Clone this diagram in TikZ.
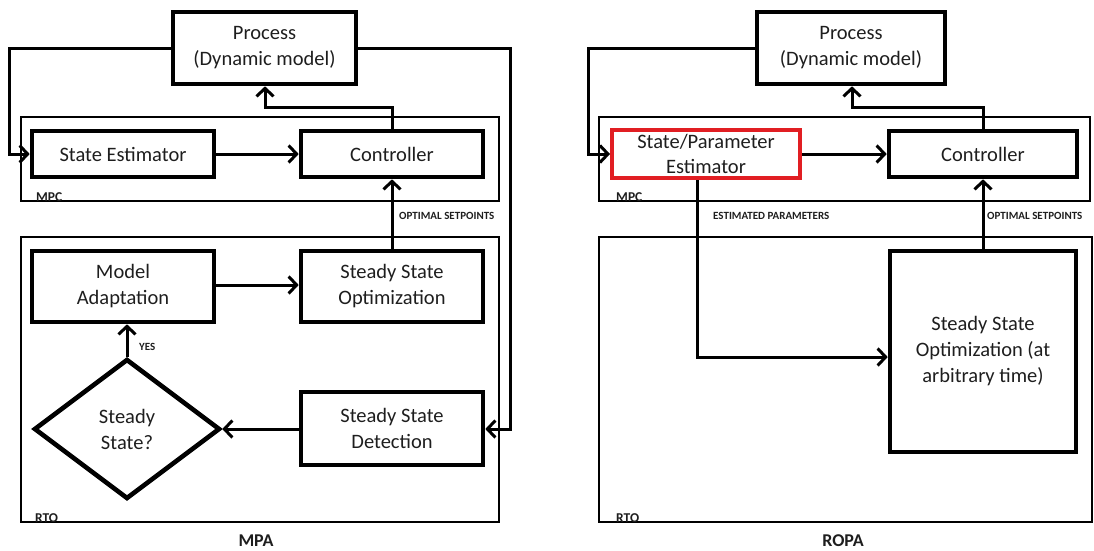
\documentclass[tikz,border=0pt]{standalone}
\usepackage{fontspec}
\setmainfont{Carlito}
\usetikzlibrary{arrows.meta,shapes.geometric}
\definecolor{ink}{RGB}{30,30,30}
\definecolor{estred}{RGB}{225,30,35}
\tikzset{
  blk/.style={draw=black, line width=4.6pt, inner sep=2pt, align=center,
    text=ink, font=\fontsize{20.5}{26}\selectfont},
  frame/.style={draw=black, line width=2.8pt, inner sep=0pt},
  decide/.style={diamond, draw=black, line width=4.6pt, inner sep=0pt, align=center,
    text=ink, font=\fontsize{20.5}{26}\selectfont},
  link/.style={draw=black, line width=3pt},
  flow/.style={link, -{Straight Barb[length=8pt,width=17pt]}},
  tag/.style={inner sep=0pt, text=ink, font=\fontsize{11}{12}\selectfont\bfseries},
  framelabel/.style={inner sep=0pt, text=ink, font=\fontsize{13.5}{14}\selectfont\bfseries, anchor=south west},
  caption/.style={inner sep=0pt, text=ink, font=\fontsize{18}{20}\selectfont\bfseries}
}
\begin{document}
\begin{tikzpicture}[x=1pt,y=-1pt]
\useasboundingbox (0,0) rectangle (1094,550);

% ---------------- MPA ----------------
\node[frame, minimum width=478pt, minimum height=84pt] (mpc1) at (260,159) {};
\node[frame, minimum width=478pt, minimum height=285pt] (rto1) at (260,379.5) {};
\node[framelabel] (mpc1lbl) at (36,202) {MPC};
\node[framelabel] (rto1lbl) at (35,523) {RTO};

\node[blk, minimum width=183pt, minimum height=72pt] (proc1) at (264.5,48) {Process\\(Dynamic model)};
\node[blk, minimum width=182pt, minimum height=46pt] (se1) at (123,154) {State Estimator};
\node[blk, minimum width=182pt, minimum height=46pt] (ctl1) at (392,154) {Controller};
\node[blk, minimum width=182pt, minimum height=71pt] (ma1) at (123,286.5) {Model\\Adaptation};
\node[blk, minimum width=182pt, minimum height=71pt] (sso1) at (392,286.5) {Steady State\\Optimization};
\node[blk, minimum width=182pt, minimum height=73pt] (ssd1) at (392,428.5) {Steady State\\Detection};
\node[decide, minimum width=186pt, minimum height=140pt] (ss1) at (127,429) {Steady\\State?};

\draw[flow] (proc1.west) -- (9,48) -- (9,154) -- (se1.west);
\draw[flow] (proc1.east) -- (510,48) -- (510,429) -- (ssd1.east |- 0,429);
\draw[flow] (ctl1.north) -- (392,107) -- (265,107) -- (proc1.south -| 265,0);
\draw[flow] (se1.east) -- (ctl1.west);
\draw[flow] (sso1.north) -- (ctl1.south);
\draw[flow] (ma1.east |- 0,285) -- (sso1.west |- 0,285);
\draw[flow] (ss1.north) -- (ss1.north |- ma1.south);
\draw[flow] (ssd1.west |- ss1.east) -- (ss1.east);

\node[tag, anchor=west] (opt1) at (399,216) {OPTIMAL SETPOINTS};
\node[tag, anchor=west] (yes1) at (139,347) {YES};
\node[caption] (mpa) at (256,541) {MPA};

% ---------------- ROPA ----------------
\node[frame, minimum width=491pt, minimum height=84pt] (mpc2) at (844.5,159) {};
\node[frame, minimum width=493pt, minimum height=285pt] (rto2) at (845.5,379.5) {};
\node[framelabel] (mpc2lbl) at (616,202) {MPC};
\node[framelabel] (rto2lbl) at (616,523) {RTO};

\node[blk, minimum width=188pt, minimum height=72pt] (proc2) at (851,48) {Process\\(Dynamic model)};
\node[blk, draw=estred, line width=4pt, minimum width=188pt, minimum height=48pt,
  font=\fontsize{20.5}{25}\selectfont, inner sep=0pt] (spe) at (706,154) {State/Parameter\\Estimator};
\node[blk, minimum width=188pt, minimum height=46pt] (ctl2) at (983,154) {Controller};
\node[blk, minimum width=186pt, minimum height=201pt] (sso2) at (983,351.5) {Steady State\\Optimization (at\\arbitrary time)};

\draw[flow] (proc2.west) -- (588,48) -- (588,154) -- (spe.west);
\draw[flow] (ctl2.north) -- (983,107) -- (852,107) -- (proc2.south -| 852,0);
\draw[flow] (spe.east) -- (ctl2.west);
\draw[flow] (sso2.north) -- (ctl2.south);
\draw[flow] (spe.south -| 697,0) -- (697,357) -- (sso2.west |- 0,357);

\node[tag, anchor=west] (est2) at (713,216) {ESTIMATED PARAMETERS};
\node[tag, anchor=west] (opt2) at (987,216) {OPTIMAL SETPOINTS};
\node[caption] (ropa) at (843,541) {ROPA};
\end{tikzpicture}
\end{document}
